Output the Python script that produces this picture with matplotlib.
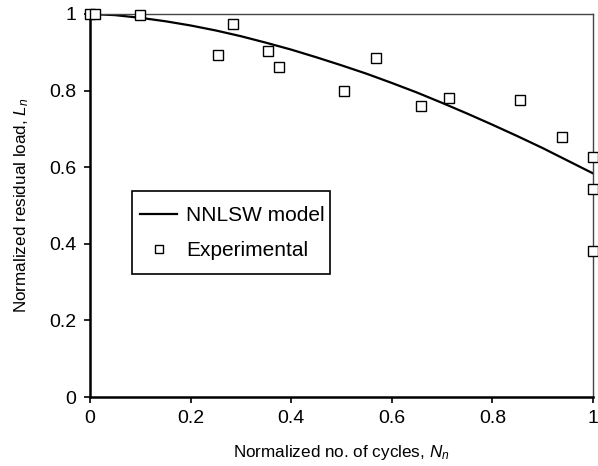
import matplotlib
matplotlib.use('Agg')
import matplotlib.pyplot as plt
from matplotlib.patches import Rectangle

plt.rcParams['font.family'] = ['Liberation Sans', 'DejaVu Sans']
plt.rcParams['mathtext.fontset'] = 'custom'
plt.rcParams['mathtext.rm'] = 'Liberation Sans'
plt.rcParams['mathtext.it'] = 'Liberation Sans:italic'

# NNLSW model curve
model_x = [0.0, 0.05, 0.1, 0.15, 0.2, 0.25, 0.3, 0.35, 0.4, 0.45, 0.5,
           0.55, 0.6, 0.65, 0.7, 0.75, 0.8, 0.85, 0.9, 0.95, 1.0]
model_y = [1.0, 0.997, 0.990, 0.981, 0.970, 0.957, 0.942, 0.925, 0.907, 0.887, 0.866,
           0.844, 0.820, 0.795, 0.768, 0.740, 0.711, 0.681, 0.650, 0.617, 0.584]

# experimental points
exp_x = [0.0, 0.01, 0.10, 0.254, 0.285, 0.353, 0.376, 0.506, 0.568,
         0.659, 0.714, 0.856, 0.939, 1.0, 1.0, 1.0]
exp_y = [1.0, 1.0, 0.997, 0.893, 0.974, 0.904, 0.862, 0.799, 0.884,
         0.760, 0.781, 0.775, 0.679, 0.626, 0.542, 0.380]

ticks = [0, 0.2, 0.4, 0.6, 0.8, 1]
tick_labels = ['0', '0.2', '0.4', '0.6', '0.8', '1']

fig = plt.figure(figsize=(5.98, 4.66), dpi=100)
ax = fig.add_axes([0.1505, 0.148, 0.841, 0.822])

ax.plot(model_x, model_y, color='black', lw=1.6, label='NNLSW model')
ax.plot(exp_x, exp_y, ls='none', marker='s', ms=7.5, mfc='white', mec='black',
        mew=1.0, clip_on=False, label='Experimental', zorder=3)

ax.set_xlim(0, 1)
ax.set_ylim(0, 1)
ax.set_xticks(ticks)
ax.set_xticklabels(tick_labels)
ax.set_yticks(ticks)
ax.set_yticklabels(tick_labels)
ax.tick_params(direction='out', length=4, width=1.2, labelsize=14, colors='black')
ax.tick_params(axis='x', pad=5.5)
ax.tick_params(axis='y', pad=6)

ax.spines['left'].set_linewidth(1.8)
ax.spines['bottom'].set_linewidth(1.8)
ax.spines['top'].set_linewidth(1.0)
ax.spines['right'].set_linewidth(1.0)
ax.spines['top'].set_color('#444444')
ax.spines['right'].set_color('#444444')

ax.set_xlabel('Normalized no. of cycles, $\\mathit{N_n}$', fontsize=12.3, labelpad=11)
ax.set_ylabel('Normalized residual load, $\\mathit{L_n}$', fontsize=12.3, labelpad=13)

# legend frame drawn separately
ax.add_patch(Rectangle((0.0835, 0.320), 0.3935, 0.218, transform=ax.transAxes,
                       fill=True, facecolor='white', edgecolor='black', lw=1.2, zorder=4))
leg = ax.legend(loc='center left', bbox_to_anchor=(0.0994, 0.4277), fontsize=15,
                frameon=False, borderpad=0, borderaxespad=0, handlelength=1.8,
                handletextpad=0.4, labelspacing=0.75, markerscale=0.75)
leg.set_zorder(5)

plt.savefig('out.png', dpi=100)
